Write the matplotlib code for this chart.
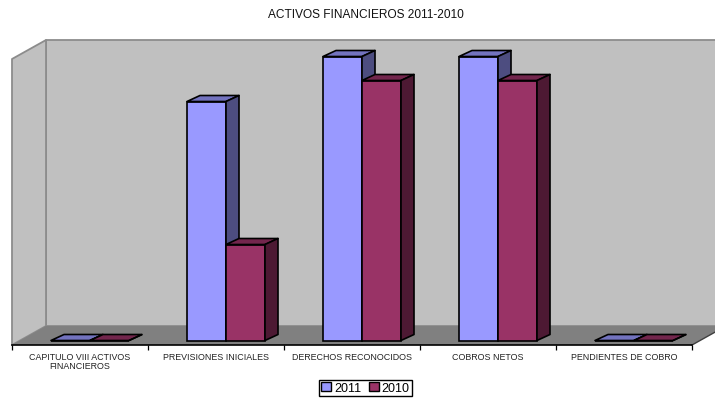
import matplotlib
matplotlib.use('Agg')
import matplotlib.pyplot as plt
from matplotlib.patches import Polygon, Patch
from matplotlib.transforms import Affine2D

plt.rcParams['font.family'] = ['Liberation Sans', 'DejaVu Sans']

categories = ['CAPITULO VIII ACTIVOS\nFINANCIEROS', 'PREVISIONES INICIALES', 'DERECHOS RECONOCIDOS',
              'COBROS NETOS', 'PENDIENTES DE COBRO']
values_2011 = [0, 239, 284, 284, 0]
values_2010 = [0, 96, 260, 260, 0]
title = 'ACTIVOS FINANCIEROS 2011-2010'

W, H = 715, 402
# front plane of the fake 3d box, in pixels
LEFT, RIGHT, BASE = 12, 692, 346
cat_px = (RIGHT - LEFT) / len(categories)

fig = plt.figure(figsize=(W / 100, H / 100), dpi=100)
fig.patch.set_facecolor('white')
ax = fig.add_axes([LEFT / W, (H - BASE) / H, (RIGHT - LEFT) / W, 305 / H])
ax.patch.set_visible(False)
ax.set_xlim(0, len(categories))
ax.set_ylim(0, 305)  # one unit is one pixel

# box
wall_dx = 34 / cat_px
wall_dy = 19
wall_top = 286
n = len(categories)


def poly(points, fc, ec='none', lw=0.0, z=1, tr=None):
    p = Polygon(points, closed=True, facecolor=fc, edgecolor=ec, linewidth=lw, zorder=z, clip_on=False,
                joinstyle='round', transform=tr if tr is not None else ax.transData)
    ax.add_patch(p)


poly([(wall_dx, wall_dy), (n + wall_dx, wall_dy), (n + wall_dx, wall_top + wall_dy), (wall_dx, wall_top + wall_dy)],
     '#C0C0C0', '#8C8C8C', 1.3)
poly([(0, 0), (wall_dx, wall_dy), (wall_dx, wall_top + wall_dy), (0, wall_top)], '#C0C0C0', '#8C8C8C', 1.3)
poly([(0, 0), (n, 0), (n + wall_dx, wall_dy), (wall_dx, wall_dy)], '#808080', z=2)
ax.plot([n, n + wall_dx], [0, wall_dy], color='#404040', lw=1.0, clip_on=False, zorder=2)

# bars sit a little inside the floor
shift = Affine2D().translate(10, 4.5)
bar_tr = ax.transData + shift
bar_w = 39 / cat_px
dx = 13 / cat_px
dy = 6


def bar3d(x, value, front, top, side):
    ax.bar(x, value, bar_w, align='edge', color=front, edgecolor='black', linewidth=1.2, transform=bar_tr,
           zorder=3, clip_on=False)
    poly([(x, value), (x + bar_w, value), (x + bar_w + dx, value + dy), (x + dx, value + dy)],
         top, 'black', 1.2, 3, bar_tr)
    poly([(x + bar_w, 0), (x + bar_w + dx, dy), (x + bar_w + dx, value + dy), (x + bar_w, value)],
         side, 'black', 1.2, 3, bar_tr)


for i in range(n):
    centre = i + 0.5
    bar3d(centre - bar_w, values_2011[i], '#9999FF', '#7373BF', '#4D4D80')
    bar3d(centre, values_2010[i], '#993366', '#73264D', '#4D1933')

# axis
for s in ['left', 'right', 'top']:
    ax.spines[s].set_visible(False)
ax.spines['bottom'].set_linewidth(1.2)
ax.spines['bottom'].set_zorder(4)
ax.set_yticks([])
ax.set_xticks(range(n + 1))
ax.set_xticklabels([])
ax.set_xticks([i + 0.5 for i in range(n)], minor=True)
ax.set_xticklabels(categories, minor=True, fontsize=6.4, color='#222222', linespacing=0.95)
ax.tick_params(axis='x', which='major', length=3.6, width=0.9)
ax.tick_params(axis='x', which='minor', length=0, pad=5)

fig.text(365.5 / W, 1 - 15 / H, title, ha='center', va='center', fontsize=8.6, color='#111111')

handles = [Patch(facecolor='#9999FF', edgecolor='black', label='2011'),
           Patch(facecolor='#993366', edgecolor='black', label='2010')]
fig.legend(handles=handles, loc='center', bbox_to_anchor=(365.5 / W, 1 - 389 / H), ncol=2, fontsize=9,
           fancybox=False, framealpha=1, edgecolor='black', handlelength=0.8, handleheight=0.7,
           handletextpad=0.25, columnspacing=0.55, borderpad=0.18, borderaxespad=0)

fig.savefig('out.png', dpi=100)
